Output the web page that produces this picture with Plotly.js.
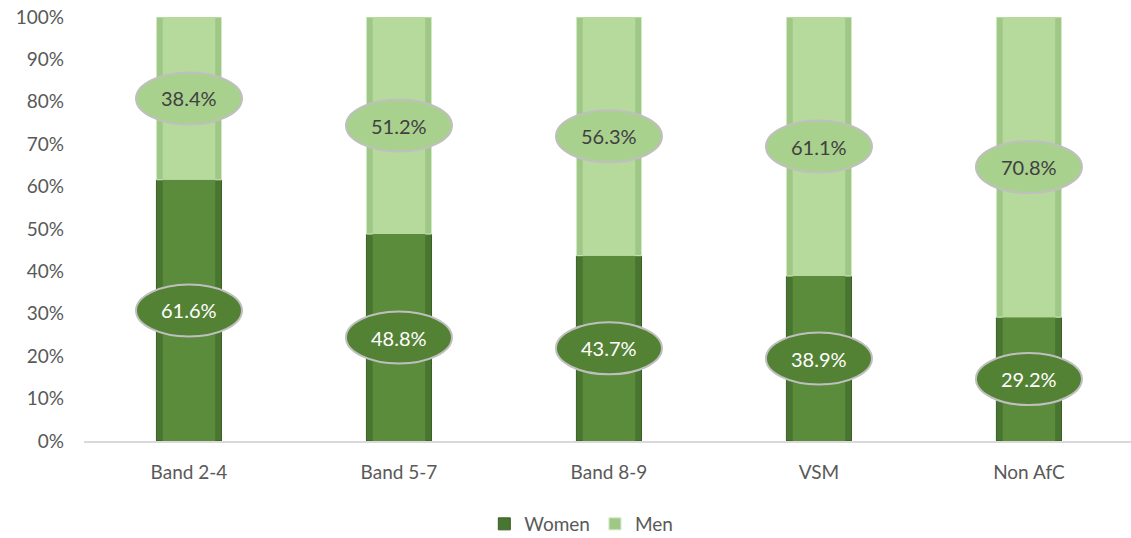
<!DOCTYPE html>
<html><head><meta charset="utf-8">
<script src="https://cdn.plot.ly/plotly-3.0.1.min.js"></script>
<style>html,body{margin:0;padding:0;background:#fff}#c{width:1131px;height:538px}</style>
</head><body><div id="c"></div>
<script>
const categories = ["Band 2-4","Band 5-7","Band 8-9","VSM","Non AfC"];
const women = [61.6, 48.8, 43.7, 38.9, 29.2];
const men = [38.4, 51.2, 56.3, 61.1, 70.8];
const yTicks = [0,10,20,30,40,50,60,70,80,90,100];

const FONT = "Lato, 'Open Sans', sans-serif";
const GREY = "#595959";

const outerW = 0.31, innerW = 0.25;
const traces = [
  {type:"bar", name:"Women", x:categories, y:women, base:categories.map(()=>0), width:outerW,
   marker:{color:"#487530", line:{color:"#3a5e25", width:1}}, hoverinfo:"skip"},
  {type:"bar", name:"Men", x:categories, y:men, base:women, width:outerW,
   marker:{color:"#9fc887", line:{color:"#d3e9c5", width:1}}, hoverinfo:"skip"},
  {type:"bar", name:"Women", x:categories, y:women, base:categories.map(()=>0), width:innerW,
   marker:{color:"#5b8c3c", line:{width:0}}, showlegend:false, hoverinfo:"skip"},
  {type:"bar", name:"Men", x:categories, y:men, base:women, width:innerW,
   marker:{color:"#b5da9c", line:{width:0}}, showlegend:false, hoverinfo:"skip"}
];

const shapes = [], annotations = [];
function addLabel(cat, yc, val, fill, txtCol){
  shapes.push({type:"circle", xref:"x", yref:"y", xsizemode:"pixel", ysizemode:"pixel",
    xanchor:cat, yanchor:yc, x0:-53, x1:53, y0:-26, y1:26,
    fillcolor:fill, line:{color:"#bfbfbf", width:2}, layer:"above"});
  annotations.push({x:cat, y:yc, xref:"x", yref:"y", text:val.toFixed(1)+"%", showarrow:false,
    font:{family:FONT, size:20, color:txtCol}});
}
categories.forEach((c,i)=>{
  addLabel(c, women[i]/2, women[i], "#548235", "#ffffff");
  addLabel(c, women[i]+men[i]/2, men[i], "#a9d18e", "#404040");
});

const layout = {
  width:1131, height:538, barmode:"overlay",
  margin:{l:84, r:0, t:17, b:97},
  paper_bgcolor:"#fff", plot_bgcolor:"#fff",
  font:{family:FONT, color:GREY, size:19},
  xaxis:{showgrid:false, zeroline:false, showline:true, linecolor:"#d9d9d9", linewidth:1.5,
    ticks:"", tickfont:{size:19, color:GREY}, range:[-0.5,4.486], ticklabelstandoff:14},
  yaxis:{range:[0,100], tickvals:yTicks, ticktext:yTicks.map(v=>v+"%"), showgrid:false,
    zeroline:false, showline:false, ticks:"", tickfont:{size:19, color:GREY}, ticklabelstandoff:19},
  showlegend:true,
  legend:{orientation:"h", x:0.475, xanchor:"center", yref:"container", y:0.026, yanchor:"middle",
    font:{size:19, color:GREY}, itemwidth:30, traceorder:"normal"},
  shapes:shapes, annotations:annotations
};
Plotly.newPlot("c", traces, layout, {displayModeBar:false, staticPlot:true});
</script></body></html>
